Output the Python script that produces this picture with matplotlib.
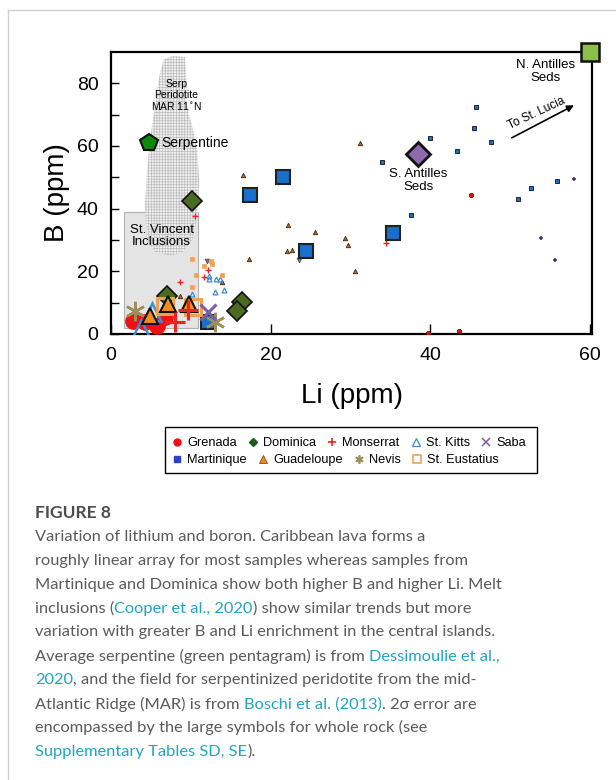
import matplotlib
matplotlib.use("Agg")
import matplotlib.pyplot as plt
from matplotlib.lines import Line2D
from matplotlib.patches import Polygon, Rectangle
import numpy as np

plt.rcParams['font.family'] = ['Liberation Sans', 'DejaVu Sans']
plt.rcParams['hatch.linewidth'] = 0.5

W, H = 616, 780

# ---------------- data ----------------
grenada_big_li = [2.8, 4.2, 5.7, 6.8]
grenada_big_b = [4.3, 3.8, 2.7, 5.3]
grenada_li = [7.0, 45.1, 39.7, 43.6]
grenada_b = [10.8, 44.4, 0.3, 0.9]

dominica_big_li = [10.2, 7.0, 16.4, 15.8]
dominica_big_b = [42.6, 12.2, 10.1, 7.4]

monserrat_big_li = [8.0, 9.7]
monserrat_big_b = [3.7, 7.6]
monserrat_li = [10.5, 12.1, 11.6, 8.7, 34.5]
monserrat_b = [37.7, 20.4, 18.1, 16.5, 29.2]

stkitts_big_li = [5.1, 3.8]
stkitts_big_b = [6.9, 1.6]
stkitts_li = [12.3, 12.3, 13.2, 13.6, 10.2, 13.0, 14.2]
stkitts_b = [17.7, 18.4, 17.5, 17.5, 12.8, 13.3, 14.1]

saba_big_li = [12.2]
saba_big_b = [6.9]
saba_li = [58.0, 53.9, 55.6]
saba_b = [49.4, 30.5, 23.7]

martinique_big_li = [21.6, 17.4, 24.4, 35.3, 12.1]
martinique_big_b = [50.2, 44.4, 26.6, 32.1, 3.7]
martinique_li = [45.7, 45.5, 40.0, 47.6, 43.3, 38.2, 34.0, 37.6, 52.6, 51.0, 55.9]
martinique_b = [72.5, 65.9, 62.4, 61.3, 58.3, 59.0, 55.0, 38.1, 46.6, 43.2, 48.8]

guadeloupe_big_li = [7.2, 9.8, 4.9]
guadeloupe_big_b = [9.6, 9.6, 5.8]
guadeloupe_li = [16.5, 22.2, 25.6, 29.3, 29.7, 22.1, 22.7, 24.3, 17.3, 30.6, 31.2, 13.9, 8.6]
guadeloupe_b = [50.7, 34.9, 32.4, 30.5, 28.4, 26.6, 26.9, 26.6, 23.9, 20.1, 60.9, 16.5, 12.2]

nevis_big_li = [3.0, 13.0]
nevis_big_b = [7.4, 3.7]
nevis_li = [12.0, 23.5]
nevis_b = [23.4, 23.7]

steust_big_li = [6.8, 10.3]
steust_big_b = [9.0, 8.5]
steust_li = [10.1, 12.5, 12.7, 11.65, 10.7, 13.9, 10.2]
steust_b = [23.9, 23.4, 22.3, 21.8, 18.8, 18.8, 14.9]

serpentine = (4.7, 60.9)
s_antilles = (38.5, 57.6)
n_antilles = (60.0, 89.9)

# field for serpentinized peridotite (MAR 11N), Li, B
serp_field_li = [7.77, 9.27, 9.52, 9.52, 10.15, 10.78, 11.03, 10.9, 10.28, 9.02, 7.4,
                 5.5, 4.5, 4.26, 4.5, 4.9, 5.5, 6.1, 6.6]
serp_field_b = [88.7, 88.4, 78.1, 72.7, 66.3, 59.0, 49.4, 38.9, 30.3, 26.2, 24.9,
                26.2, 30.3, 40.8, 51.7, 62.2, 72.7, 82.9, 87.7]
# St. Vincent inclusions box: Li range, B range
stv_li = [1.6, 10.9]
stv_b = [2.0, 38.9]

# ---------------- figure ----------------
fig = plt.figure(figsize=(W / 100, H / 100), dpi=100)
fx = lambda px: px / W
fy = lambda py: 1 - py / H

# card border
fig.add_artist(Line2D([fx(8), fx(616)], [fy(10), fy(10)], color='#d0d0d0', lw=1))
fig.add_artist(Line2D([fx(8), fx(8)], [fy(10), fy(780)], color='#d0d0d0', lw=1))

ax = fig.add_axes([fx(111), fy(334), fx(592) - fx(111), fy(52) - fy(334)])
ax.set_xlim(0, 60.25)
ax.set_ylim(0, 90)
for s in ax.spines.values():
    s.set_linewidth(1.6)
ax.set_xticks([0, 20, 40, 60])
ax.set_yticks([0, 20, 40, 60, 80])
ax.set_yticks([10, 30, 50, 70], minor=True)
ax.tick_params(direction='in', length=6, width=1, labelsize=14, pad=9)
ax.tick_params(axis='x', length=7)
ax.tick_params(which='minor', direction='in', length=6, width=1)
ax.set_xlabel('Li (ppm)', fontsize=20, labelpad=14)
ax.set_ylabel('B (ppm)', fontsize=20, labelpad=5)

# St Vincent inclusions box
ax.add_patch(Rectangle((stv_li[0], stv_b[0]), stv_li[1] - stv_li[0], stv_b[1] - stv_b[0],
                       facecolor='#e4e4e4', edgecolor='#b0b0b0', lw=0.8, zorder=1))
# serp field
ax.add_patch(Polygon(np.column_stack([serp_field_li, serp_field_b]), closed=True,
                     facecolor='#f0f0f0', edgecolor='#bdbdbd', hatch='++++++', lw=0, zorder=1.5))

ax.text(6.35, 31.2, 'St. Vincent\nInclusions', ha='center', va='center', fontsize=9.5,
        linespacing=1.05, zorder=2)
ax.text(8.2, 76.0, 'Serp\nPeridotite\nMAR 11$^{\\circ}$N', ha='center', va='center', fontsize=7.5,
        linespacing=1.05, zorder=2)

def small(x, y, **kw):
    ax.plot(x, y, linestyle='none', zorder=3, **kw)

def big(x, y, **kw):
    ax.plot(x, y, linestyle='none', zorder=4, **kw)

# small symbols
small(martinique_li, martinique_b, marker='s', ms=3.2, mfc='#1a6ecc', mec='#111111', mew=0.6)
small(guadeloupe_li, guadeloupe_b, marker='^', ms=3.2, mfc='#c0641a', mec='#3a2a10', mew=0.6)
small(grenada_li, grenada_b, marker='o', ms=3.2, mfc='#e81010', mec='#550000', mew=0.5)
small(monserrat_li, monserrat_b, marker='+', ms=4, mec='#ee2222', mew=1.0)
small(stkitts_li, stkitts_b, marker='^', ms=3.5, mfc='none', mec='#3a8fd9', mew=0.9)
small(saba_li, saba_b, marker='+', ms=3.5, mec='#4b3570', mew=1.2)
small(nevis_li, nevis_b, marker='v', ms=3.5, mfc='#777777', mec='#444444', mew=0.5)
small(steust_li, steust_b, marker='s', ms=3.2, mfc='#f5a050', mec='#f5a050', mew=0.5)

# large symbols
big(grenada_big_li, grenada_big_b, marker='o', ms=11, mfc='#ee1111', mec='#ee1111')
big(dominica_big_li, dominica_big_b, marker='D', ms=10, mfc='#4b6a22', mec='#111111', mew=1.2)
big(martinique_big_li, martinique_big_b, marker='s', ms=10, mfc='#1a6ecc', mec='#222222', mew=1.5)
big(stkitts_big_li, stkitts_big_b, marker='^', ms=13, mfc='none', mec='#3a8fd9', mew=1.8)
big(steust_big_li, steust_big_b, marker='s', ms=12, mfc='none', mec='#f5a050', mew=2.2)
big(guadeloupe_big_li, guadeloupe_big_b, marker='^', ms=12, mfc='#f28c1c', mec='#111111', mew=1.5)
big(monserrat_big_li, monserrat_big_b, marker='+', ms=14, mec='#ee2222', mew=2.2)
big(nevis_big_li, nevis_big_b, marker=(6, 2, 0), ms=14, mec='#9c8f5c', mew=1.8)
big(saba_big_li, saba_big_b, marker='x', ms=12, mec='#7b5ea7', mew=2.2)

ax.plot([serpentine[0]], [serpentine[1]], marker='p', ms=13, mfc='#0b8a0b', mec='#111111',
        mew=1.5, linestyle='none', zorder=5)
ax.plot([s_antilles[0]], [s_antilles[1]], marker='D', ms=12, mfc='#8f68b0', mec='#111111',
        mew=2, linestyle='none', zorder=5)
ax.plot([n_antilles[0]], [n_antilles[1]], marker='s', ms=13, mfc='#8cbf48', mec='#111111',
        mew=1.8, linestyle='none', zorder=5, clip_on=False)

ax.text(6.27, 60.9, 'Serpentine', ha='left', va='center', fontsize=10, zorder=6)
ax.text(38.5, 48.9, 'S. Antilles\nSeds', ha='center', va='center', fontsize=9.5,
        linespacing=1.15, zorder=6)
ax.text(54.4, 83.8, 'N. Antilles\nSeds', ha='center', va='center', fontsize=9.5,
        linespacing=1.15, zorder=6)
ax.annotate('', xy=(58.3, 73.4), xytext=(49.9, 62.2),
            arrowprops=dict(arrowstyle='-|>', color='black', lw=1.2, mutation_scale=10))
ax.text(53.3, 70.3, 'To St. Lucia', rotation=25, rotation_mode='anchor', ha='center',
        va='center', fontsize=8.5)

# ---------------- legend ----------------
def h(**kw):
    return Line2D([], [], linestyle='none', **kw)

row1 = [
    (h(marker='o', ms=5, mfc='#ee1111', mec='#ee1111'), 'Grenada'),
    (h(marker='D', ms=4, mfc='#1d5a1d', mec='#1d5a1d'), 'Dominica'),
    (h(marker='+', ms=6, mec='#ee2222', mew=1.2), 'Monserrat'),
    (h(marker='^', ms=5.5, mfc='none', mec='#3a8fd9', mew=0.9), 'St. Kitts'),
    (h(marker='x', ms=5.5, mec='#7b5ea7', mew=1.1), 'Saba'),
]
row2 = [
    (h(marker='s', ms=5, mfc='#2a40cc', mec='#2a40cc'), 'Martinique'),
    (h(marker='^', ms=5.5, mfc='#f28c1c', mec='#8a4a10', mew=0.6), 'Guadeloupe'),
    (h(marker=(6, 2, 0), ms=6, mec='#9c8f5c', mew=1.2), 'Nevis'),
    (h(marker='s', ms=5.5, mfc='none', mec='#f5a050', mew=1.2), 'St. Eustatius'),
]
for row, yy in [(row1, 443), (row2, 460)]:
    lg = fig.legend([r[0] for r in row], [r[1] for r in row], loc='center left',
                    bbox_to_anchor=(fx(172), fy(yy)), ncol=len(row), frameon=False,
                    fontsize=9.2, handlelength=0.8, handletextpad=0.4, columnspacing=0.85,
                    borderpad=0, borderaxespad=0)
fig.add_artist(Rectangle((fx(165), fy(473)), fx(537) - fx(165), fy(427) - fy(473),
                         transform=fig.transFigure, fill=False, edgecolor='black', lw=1))

# ---------------- caption ----------------
GRAY = '#5a5a5a'
CYAN = '#1fa5c4'
CAPFONT = ['Lato', 'DejaVu Sans']
CAPSIZE = 11.8

fig.text(fx(35), fy(512.7), 'FIGURE 8', fontsize=12.5, fontweight='bold', color='#4d4d4d',
         family=CAPFONT, va='center', ha='left')

lines = [
    [('Variation of lithium and boron. Caribbean lava forms a', GRAY)],
    [('roughly linear array for most samples whereas samples from', GRAY)],
    [('Martinique and Dominica show both higher B and higher Li. Melt', GRAY)],
    [('inclusions (', GRAY), ('Cooper et al., 2020', CYAN), (') show similar trends but more', GRAY)],
    [('variation with greater B and Li enrichment in the central islands.', GRAY)],
    [('Average serpentine (green pentagram) is from ', GRAY), ('Dessimoulie et al.,', CYAN)],
    [('2020', CYAN), (', and the field for serpentinized peridotite from the mid-', GRAY)],
    [('Atlantic Ridge (MAR) is from ', GRAY), ('Boschi et al. (2013)', CYAN), ('. 2σ error are', GRAY)],
    [('encompassed by the large symbols for whole rock (see', GRAY)],
    [('Supplementary Tables SD, SE', CYAN), (').', GRAY)],
]
y0, dy = 536.7, 23.9
for i, segs in enumerate(lines):
    yy = y0 + i * dy
    prev = fig.text(fx(35), fy(yy), segs[0][0], color=segs[0][1], fontsize=CAPSIZE,
                    family=CAPFONT, va='center', ha='left')
    for txt, col in segs[1:]:
        prev = plt.annotate(txt, xy=(1, 0), xycoords=prev, va='bottom', ha='left', color=col,
                            fontsize=CAPSIZE, family=CAPFONT, annotation_clip=False)

fig.savefig('out.png', dpi=100)
